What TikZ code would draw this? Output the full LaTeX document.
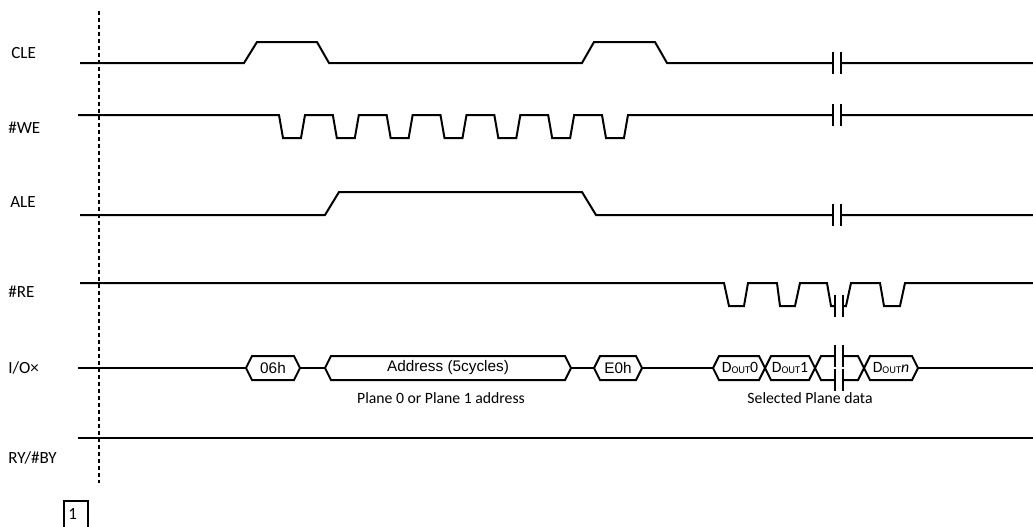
\documentclass[tikz,border=0pt]{standalone}
\usepackage{fontspec}
\setmainfont{Carlito}
\newfontfamily\arialfont{Liberation Sans}
\newcommand{\dsub}[1]{\raisebox{-0.2ex}{\fontsize{7.8}{8}\selectfont #1}}
\begin{document}
\begin{tikzpicture}[>=stealth,x=0.75pt,y=-0.75pt,
	sig/.style={line width=1.5pt,line join=miter},
	lbl/.style={anchor=west,inner sep=0pt,font=\fontsize{12.8}{14}\selectfont},
	hexlbl/.style={inner sep=0pt,font=\arialfont\fontsize{11.5}{13}\selectfont},
	dlbl/.style={inner sep=0pt,font=\fontsize{11.8}{13}\selectfont},
	note/.style={inner sep=0pt,font=\fontsize{11.8}{13}\selectfont}]
		\useasboundingbox (0,0) rectangle (1033,526);
		% signal names
		\node[lbl] (cle) at (11,53) {CLE};
		\node[lbl] (we) at (8,128) {\#WE};
		\node[lbl] (ale) at (10,202) {ALE};
		\node[lbl] (re) at (8,292) {\#RE};
		\node[lbl] (io) at (8,368) {I/O×};
		\node[lbl] (rb) at (8,458) {RY/\#BY};
		\draw[line width=1.9pt,dash pattern=on 3pt off 2.25pt] (99,11) -- (99,483);
		% CLE, #WE, ALE
		\draw[sig] (80,63) -- (244,63) -- (257,42) -- (317,42) -- (329,63) -- (582,63) -- (594,42) -- (655,42) -- (667,63) -- (833,63) (841,63) -- (1033,63);
		\draw[sig] (78,115) foreach \i in {0,...,6} { -- ({279+53.83*\i},115) -- ({283+53.83*\i},138) -- ({301+53.83*\i},138) -- ({305+53.83*\i},115)} -- (833,115) (841,115) -- (1033,115);
		\draw[sig] (80,215) -- (325,215) -- (339,192) -- (582,192) -- (596,215) -- (833,215) (841,215) -- (1033,215);
		\foreach \y in {63,115,215}
			\draw[sig] (833,\y-11) -- (833,\y+11) (841,\y-11) -- (841,\y+11);
		% #RE
		\draw[sig] (80,283) -- (724,283) -- (729,306) -- (744,306) -- (748,283) -- (777,283) -- (780,306) -- (795,306) -- (800,283) -- (827,283) -- (831,306) -- (835,306) (843,306) -- (846,306) -- (851,283) -- (880,283) -- (884,306) -- (900,306) -- (905,283) -- (1033,283);
		\draw[sig] (835,295) -- (835,317) (843,295) -- (843,317);
		% I/O bus
		\draw[sig] (78,368) -- (246,368) (300,368) -- (325,368) (571,368) -- (594,368) (642,368) -- (713,368) (918,368) -- (1033,368);
		\foreach \a/\b in {246/300,325/571,594/642,713/765,765/815,864/918}
			\draw[sig] (\a,368) -- (\a+6,356) -- (\b-6,356) -- (\b,368) -- (\b-6,380) -- (\a+6,380) -- cycle;
		\draw[sig] (835,356) -- (821,356) -- (815,368) -- (821,380) -- (835,380) (843,356) -- (858,356) -- (864,368) -- (858,380) -- (843,380);
		\foreach \y in {356,380}
			\draw[sig] (835,\y-11) -- (835,\y+11) (843,\y-11) -- (843,\y+11);
		\node[hexlbl] (c06) at (273,368) {06h};
		\node[hexlbl] (addr) at (448,368) {Address (5cycles)};
		\node[hexlbl] (ce0) at (618,368) {E0h};
		\node[dlbl] (d0) at (740,368) {D\dsub{OUT}0};
		\node[dlbl] (d1) at (790,368) {D\dsub{OUT}1};
		\node[dlbl] (dn) at (891,368) {D\dsub{OUT}\textit{n}};
		\node[note] (planeaddr) at (441,398) {Plane 0 or Plane 1 address};
		\node[note] (seldata) at (810,398) {Selected Plane data};
		% RY/#BY
		\draw[sig] (78,438) -- (1033,438);
		\draw[line width=1pt] (64,501) rectangle (88,532);
		\node[lbl] (mark) at (68,514) {1};
\end{tikzpicture}
\end{document}
